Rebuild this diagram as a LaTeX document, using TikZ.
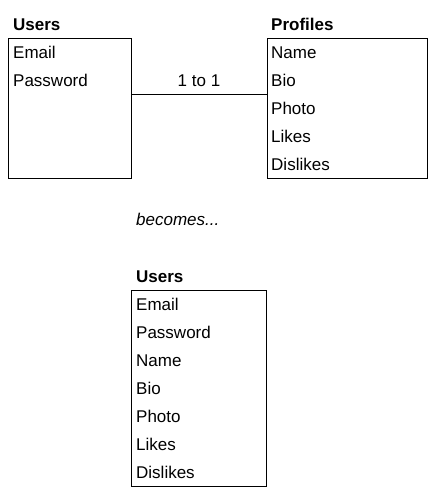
\documentclass[tikz,border=0pt]{standalone}
\usepackage{fontspec}
\setmainfont{Liberation Sans}
\begin{document}
\begin{tikzpicture}[x=1pt,y=-1pt,
  txt/.style={anchor=base west,inner sep=0pt,font=\fontsize{17}{20}\selectfont},
  ttl/.style={txt,font=\fontsize{17}{20}\selectfont\bfseries},
  tbl/.style={draw,line width=1pt,inner sep=0pt}]
\useasboundingbox (0,0) rectangle (440,498);
% top Users
\node[ttl] (t1) at (13,30.5) {Users};
\node[tbl,minimum width=123pt,minimum height=140pt] (u) at (69.5,108) {};
\node[txt] (u1) at (13,58.5) {Email};
\node[txt] (u2) at (13,86.5) {Password};
% Profiles
\node[ttl] (t2) at (271,30.5) {Profiles};
\node[tbl,minimum width=160pt,minimum height=140pt] (p) at (347,108) {};
\node[txt] (p1) at (271,58.5) {Name};
\node[txt] (p2) at (271,86.5) {Bio};
\node[txt] (p3) at (271,114.5) {Photo};
\node[txt] (p4) at (271,142.5) {Likes};
\node[txt] (p5) at (271,170.5) {Dislikes};
% connector
\coordinate (c) at (199,94);
\draw[line width=1pt] (u.east |- c) -- (p.west |- c);
\node[txt,anchor=base] (l) at (199,86.5) {1 to 1};
% becomes
\node[txt,font=\fontsize{17}{20}\selectfont\itshape] (b) at (136,225.5) {becomes...};
% bottom Users
\node[ttl] (t3) at (136,282.5) {Users};
\node[tbl,minimum width=135pt,minimum height=196pt] (v) at (198.5,388) {};
\node[txt] (v1) at (136,310.5) {Email};
\node[txt] (v2) at (136,338.5) {Password};
\node[txt] (v3) at (136,366.5) {Name};
\node[txt] (v4) at (136,394.5) {Bio};
\node[txt] (v5) at (136,422.5) {Photo};
\node[txt] (v6) at (136,450.5) {Likes};
\node[txt] (v7) at (136,478.5) {Dislikes};
\end{tikzpicture}
\end{document}
